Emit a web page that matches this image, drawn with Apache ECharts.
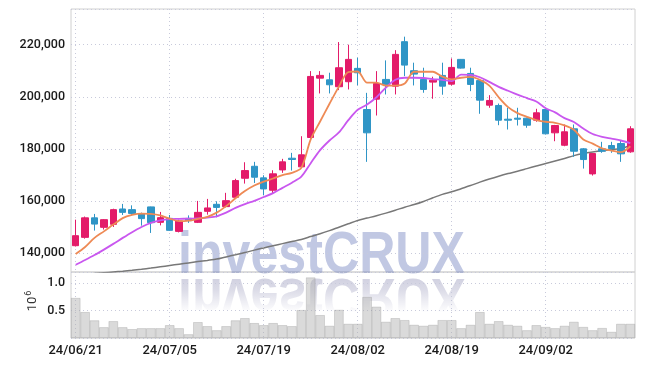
<!DOCTYPE html>
<html><head><meta charset="utf-8">
<script src="https://cdn.jsdelivr.net/npm/echarts@6/dist/echarts.min.js"></script>
<style>html,body{margin:0;padding:0;background:#fff}#c{width:645px;height:366px}</style>
</head><body><div id="c"></div>
<script>
const dates = ['24/06/21','24/06/24','24/06/25','24/06/26','24/06/27','24/06/28',
'24/07/01','24/07/02','24/07/03','24/07/04','24/07/05','24/07/08','24/07/09','24/07/10','24/07/11','24/07/12','24/07/15','24/07/16','24/07/17','24/07/18','24/07/19','24/07/22','24/07/23','24/07/24','24/07/25','24/07/26','24/07/29','24/07/30','24/07/31',
'24/08/01','24/08/02','24/08/05','24/08/06','24/08/07','24/08/08','24/08/09','24/08/12','24/08/13','24/08/14','24/08/16','24/08/19','24/08/20','24/08/21','24/08/22','24/08/23','24/08/26','24/08/27','24/08/28','24/08/29','24/08/30',
'24/09/02','24/09/03','24/09/04','24/09/05','24/09/06','24/09/09','24/09/10','24/09/11','24/09/12','24/09/13'];

const open  = [142800,146000,153500,149850,151000,156900,156650,155100,157700,151770,
               153300,148300,153300,151770,156000,158700,157800,161400,168700,173300,
               168850,164100,171900,176400,173080,184350,207150,206500,203850,205770,
               210900,195100,199070,206650,204070,221150,210000,206650,205620,208190,
               204840,214350,208960,206200,196770,196650,191380,191770,191770,191000,
               195110,186150,181380,187690,180000,170380,180000,181270,182040,178850];
const close = [146650,153500,151100,152800,156650,155600,155200,153200,151650,153580,
               148700,152300,152400,155600,157300,157500,160100,167800,171650,169100,
               164600,170400,175000,175900,177700,207800,208200,204600,211150,214350,
               209200,186150,205100,204730,216270,212150,208700,202800,206380,204070,
               211270,211000,204730,198700,198580,191000,191000,191380,189080,193840,
               185770,188960,186540,179080,175880,178190,179080,180110,178080,187690];
const low   = [142500,145500,148600,149000,150000,154600,154350,150500,147700,150600,
               148500,147900,151550,151500,154730,153700,157500,160800,166650,166900,
               162150,162800,170770,171650,172700,183950,201270,201270,202540,202800,
               204400,175000,192800,200880,200880,207920,204340,201540,199230,200770,
               204300,210800,202150,193460,195770,189080,187420,188960,188080,190400,
               185500,182920,181000,176920,172420,169730,178460,178460,175000,178500];
const high  = [152800,154000,155000,153000,157000,158850,158300,155500,157800,155770,
               154600,152800,154450,160000,160770,159850,163100,168500,174850,175000,
               169850,171770,176150,178460,184850,209850,209850,209230,221000,220000,
               215000,201500,209840,213960,217900,223070,213080,211150,207690,213080,
               214730,214500,211150,206400,200610,197400,195770,195770,192000,195380,
               195500,189200,189340,189340,180300,178400,182690,182690,183310,188690];
const volume = [727000,470000,320000,195000,305000,195000,160000,177000,177000,177000,
                232000,177000,67000,287000,214000,140000,214000,320000,360000,270000,
                232000,270000,232000,214000,507000,1100000,415000,220000,510000,256000,
                256000,745000,568000,293000,360000,324000,238000,220000,238000,324000,
                324000,177000,238000,470000,256000,305000,238000,220000,140000,232000,
                200000,177000,220000,293000,200000,140000,180000,110000,256000,256000];
const maShort = [139600,142300,145800,148300,150900,153400,154600,155100,155000,154400,
                 153200,152200,152400,153100,153900,155500,158000,161000,163800,165900,
                 167400,168600,169900,170800,172700,183600,190500,197300,203900,209500,
                 209700,205400,205400,204300,204300,205100,209600,209600,209600,207700,
                 206700,207300,207600,206500,204300,199800,196000,193700,192300,191000,
                 190400,190000,189000,187300,183600,182000,180200,179300,178700,181000];
const maMid = [135500,137300,139200,141300,143500,145800,148000,150000,151600,152500,
               153000,153100,153200,153300,153600,154100,155500,157300,158800,160000,
               161500,163000,165000,167000,169300,174500,179500,183200,186300,191000,
               195000,197000,199800,203500,206500,207300,207300,207200,206800,206500,
               206000,208500,208400,207500,205700,203800,202300,200800,199500,198200,
               195600,194000,191800,190300,187800,185700,184600,183900,183200,182200];
const maLong = [131300,131700,132100,132400,132700,133000,133350,133750,134200,134700,
                135200,135700,136200,136700,137150,137650,138500,139300,140150,141100,
                141950,142800,143600,144400,145200,146300,147400,148600,149900,151200,
                152500,153400,154300,155300,156400,157600,158600,159800,161200,162500,
                163500,164700,165900,167200,168400,169500,170500,171400,172400,173400,
                174400,175300,176300,177400,178200,178800,179300,179700,180100,181400];
const watermark = 'investCRUX';
const volumeUnitBase = '10';
const volumeUnitExp = '6';

const UP = '#e31b69', DOWN = '#2f95c6';
const gridLine = {color: '#c8cadb', type: [1, 3], width: 1};
const labelStyle = {fontFamily: 'Roboto', fontWeight: 500, color: '#1a1a1a'};

const chart = echarts.init(document.getElementById('c'), null, {renderer: 'canvas'});
const candles = dates.map((d, i) => [open[i], close[i], low[i], high[i]]);

const option = {
  animation: false,
  backgroundColor: '#ffffff',
  grid: [
    {left: 71, right: 10, top: 9, height: 263, show: true, borderColor: '#d0d0d0', borderWidth: 1},
    {left: 71, right: 10, top: 272, height: 66, show: true, borderColor: '#d0d0d0', borderWidth: 1}
  ],
  xAxis: [
    {type: 'category', data: dates, gridIndex: 0, boundaryGap: true, z: 2,
     axisLine: {show: false}, axisTick: {show: false}, axisLabel: {show: false},
     splitLine: {show: true, interval: 9, alignWithLabel: true, lineStyle: gridLine}},
    {type: 'category', data: dates, gridIndex: 1, boundaryGap: true, z: 2,
     axisLine: {show: false}, axisTick: {show: false},
     axisLabel: Object.assign({show: true, interval: 9, margin: 6, fontSize: 13}, labelStyle),
     splitLine: {show: true, interval: 9, alignWithLabel: true, lineStyle: gridLine}}
  ],
  yAxis: [
    {type: 'value', gridIndex: 0, min: 132700, max: 233700, z: 2,
     axisLine: {show: false}, axisTick: {show: false},
     axisLabel: Object.assign({margin: 6, fontSize: 12.5, showMinLabel: false, showMaxLabel: false,
       formatter: v => v.toLocaleString('en-US')}, labelStyle),
     splitLine: {show: true, lineStyle: gridLine}},
    {type: 'value', gridIndex: 1, min: 0, max: 1200000, interval: 500000, z: 2,
     axisLine: {show: false}, axisTick: {show: false},
     axisLabel: Object.assign({margin: 6, fontSize: 12.5, showMaxLabel: false,
       formatter: v => v === 0 ? '' : (v / 1e6).toFixed(1)}, labelStyle),
     splitLine: {show: true, lineStyle: gridLine}}
  ],
  series: [
    {type: 'line', name: 'long', xAxisIndex: 0, yAxisIndex: 0, data: maLong, smooth: 0.3,
     symbol: 'none', z: 3, lineStyle: {color: '#787878', width: 1.5}},
    {type: 'candlestick', xAxisIndex: 0, yAxisIndex: 0, data: candles, barWidth: 7, z: 4,
     itemStyle: {color: UP, color0: DOWN, borderColor: UP, borderColor0: DOWN, borderWidth: 1}},
    {type: 'line', name: 'mid', xAxisIndex: 0, yAxisIndex: 0, data: maMid, smooth: 0.3,
     symbol: 'none', z: 5, lineStyle: {color: '#c957ef', width: 1.8}},
    {type: 'line', name: 'short', xAxisIndex: 0, yAxisIndex: 0, data: maShort, smooth: 0.3,
     symbol: 'none', z: 6, lineStyle: {color: '#ee8a55', width: 1.8}},
    {type: 'bar', xAxisIndex: 1, yAxisIndex: 1, data: volume, barCategoryGap: '0%', z: 4,
     itemStyle: {color: 'rgba(172,172,172,0.45)', borderColor: 'rgba(130,130,130,0.45)', borderWidth: 0.6}}
  ],
  graphic: [
    {type: 'text', x: 178, y: 257, scaleX: 0.85, z: 0, silent: true,
     style: {text: watermark, font: 'bold 59px "Liberation Sans"', fill: 'rgba(118,134,194,0.45)',
             verticalAlign: 'middle', textVerticalAlign: 'middle'}},
    {type: 'text', x: 178, y: 257, originX: 0, originY: 19, scaleX: 0.85, scaleY: -1, z: 0, silent: true,
     style: {text: watermark, font: 'bold 59px "Liberation Sans"', fill: 'rgba(150,150,185,0.42)',
             verticalAlign: 'middle', textVerticalAlign: 'middle'}},
    {type: 'rect', z: 1, silent: true,
     shape: {x: 165, y: 280, width: 310, height: 50},
     style: {fill: new echarts.graphic.LinearGradient(0, 0, 0, 1, [
               {offset: 0, color: 'rgba(255,255,255,0)'},
               {offset: 0.2, color: 'rgba(255,255,255,0.2)'},
               {offset: 0.65, color: 'rgba(255,255,255,1)'},
               {offset: 1, color: 'rgba(255,255,255,1)'}])}},
    {type: 'text', x: 33, y: 301, rotation: Math.PI / 2, z: 10, silent: true,
     style: {text: '{a|' + volumeUnitBase + '}{b|' + volumeUnitExp + '}',
             align: 'center', verticalAlign: 'middle', textAlign: 'center', textVerticalAlign: 'middle',
             rich: {a: {fontSize: 13, fontFamily: 'Roboto', fill: '#333', color: '#333'},
                    b: {fontSize: 9, fontFamily: 'Roboto', fill: '#333', color: '#333', padding: [0, 0, 9, 1]}}}}
  ]
};
chart.setOption(option);
</script>
</body></html>
